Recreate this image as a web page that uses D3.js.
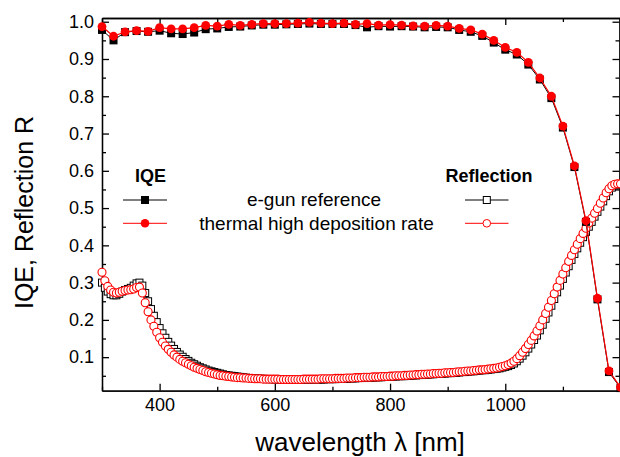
<!DOCTYPE html>
<html>
<head>
<meta charset="utf-8">
<script src="https://cdn.jsdelivr.net/npm/d3@7"></script>
<style>
  body { margin: 0; background: #fff; }
  svg { display: block; font-family: "Liberation Sans", Arial, sans-serif; }
  .axis path, .axis line { stroke: #000; stroke-width: 1.3; }
  .axis text { font-size: 18px; fill: #000; }
</style>
</head>
<body>
<script>
// IQE, sampled every 20 nm
const iqeWl = [300, 320, 340, 360, 380, 400, 420, 440, 460, 480, 500, 520, 540, 560, 580, 600,
  620, 640, 660, 680, 700, 720, 740, 760, 780, 800, 820, 840, 860, 880, 900, 920, 940, 960, 980,
  1000, 1020, 1040, 1060, 1080, 1100, 1120, 1140, 1160, 1180, 1200];
const iqeEgun = [0.978, 0.950, 0.972, 0.975, 0.973, 0.976, 0.969, 0.967, 0.971, 0.980, 0.982, 0.986,
  0.987, 0.990, 0.992, 0.992, 0.993, 0.994, 0.995, 0.994, 0.994, 0.994, 0.991, 0.985, 0.988, 0.987,
  0.988, 0.987, 0.985, 0.986, 0.985, 0.978, 0.973, 0.962, 0.944, 0.925, 0.912, 0.885, 0.845, 0.795,
  0.716, 0.610, 0.463, 0.255, 0.060, 0.017];
const iqeThermal = [0.987, 0.961, 0.973, 0.976, 0.974, 0.984, 0.981, 0.981, 0.984, 0.990, 0.988, 0.993,
  0.990, 0.993, 0.995, 0.995, 0.995, 0.996, 0.998, 0.996, 0.995, 0.996, 0.993, 0.995, 0.991, 0.992,
  0.991, 0.989, 0.988, 0.990, 0.988, 0.982, 0.978, 0.967, 0.950, 0.931, 0.918, 0.891, 0.849, 0.800,
  0.720, 0.613, 0.466, 0.258, 0.063, 0.019];

// reflection, sampled every 5 nm from 300 to 1200
const reflWl = d3.range(300, 1201, 5);
const reflEgun = [
  .300, .286, .276, .269, .266, .266, .270, .276, .280, .283,
  .286, .292, .298, .300, .292, .272, .250, .229, .211, .194,
  .178, .164, .152, .141, .131, .122, .114, .107, .101, .095,
  .090, .085, .081, .077, .073, .070, .067, .064, .062, .060,
  .058, .056, .054, .052, .051, .050, .049, .048, .047, .046,
  .045, .044, .044, .043, .043, .042, .042, .041, .041, .041,
  .040, .040, .040, .039, .039, .039, .039, .039, .039, .039,
  .039, .039, .039, .040, .040, .040, .040, .040, .041, .041,
  .041, .041, .042, .042, .042, .042, .043, .043, .043, .044,
  .044, .044, .045, .045, .045, .046, .046, .046, .047, .047,
  .047, .048, .048, .049, .049, .049, .050, .050, .051, .051,
  .052, .052, .053, .053, .054, .054, .055, .055, .056, .056,
  .057, .057, .058, .058, .059, .060, .060, .061, .062, .062,
  .063, .064, .065, .065, .066, .067, .068, .069, .070, .072,
  .074, .076, .079, .083, .089, .096, .104, .113, .123, .134,
  .146, .158, .172, .187, .203, .220, .238, .256, .274, .292,
  .310, .327, .344, .361, .377, .392, .407, .422, .436, .450,
  .463, .477, .490, .504, .518, .532, .545, .555, .561, .564,
  .565];
const reflThermal = [
  .328, .305, .290, .280, .274, .272, .274, .277, .279, .280,
  .281, .283, .287, .288, .272, .246, .222, .200, .183, .167,
  .152, .140, .130, .121, .113, .106, .100, .094, .089, .085,
  .081, .077, .073, .070, .067, .064, .061, .059, .057, .055,
  .053, .051, .050, .049, .048, .047, .046, .045, .045, .044,
  .044, .043, .043, .042, .042, .042, .041, .041, .041, .041,
  .041, .041, .040, .040, .040, .040, .040, .040, .040, .040,
  .041, .041, .041, .041, .041, .041, .042, .042, .042, .042,
  .042, .043, .043, .043, .043, .044, .044, .044, .045, .045,
  .045, .046, .046, .046, .047, .047, .047, .048, .048, .048,
  .049, .049, .050, .050, .050, .051, .051, .052, .052, .053,
  .053, .054, .054, .055, .055, .056, .056, .057, .057, .058,
  .058, .059, .059, .060, .061, .061, .062, .063, .063, .064,
  .065, .066, .066, .067, .068, .069, .070, .071, .073, .075,
  .077, .080, .084, .089, .096, .104, .113, .123, .134, .145,
  .157, .170, .184, .200, .217, .234, .252, .270, .288, .306,
  .323, .340, .357, .373, .388, .403, .418, .432, .446, .460,
  .473, .486, .499, .513, .527, .541, .552, .560, .564, .565,
  .565];

const xMajor = [400, 600, 800, 1000];
const xMinor = [300, 500, 700, 900, 1100];
const yMajor = [0.1, 0.2, 0.3, 0.4, 0.5, 0.6, 0.7, 0.8, 0.9, 1.0];
const yMinor = [0.05, 0.15, 0.25, 0.35, 0.45, 0.55, 0.65, 0.75, 0.85, 0.95];

const W = 620, H = 457;
const mLeft = 102, mRight = 619.5, mTop = 18, mBottom = 390.7;

const x = d3.scaleLinear().domain([300, 1200]).range([mLeft, 620.5]);
const y = d3.scaleLinear().domain([0.01, 1.01]).range([mBottom, mTop]);

const svg = d3.select('body').append('svg')
  .attr('width', W)
  .attr('height', H);

function addAxis(axis, tx, ty, ticks, size, fmt) {
  return svg.append('g')
    .attr('class', 'axis')
    .attr('transform', `translate(${tx},${ty})`)
    .call(axis.tickValues(ticks).tickSizeInner(-size).tickSizeOuter(0).tickPadding(8)
      .tickFormat(fmt || (() => '')));
}

// bottom
addAxis(d3.axisBottom(x), 0, mBottom, xMinor, 4);
addAxis(d3.axisBottom(x), 0, mBottom, xMajor, 7, d3.format('d'));
// top
addAxis(d3.axisTop(x), 0, mTop, xMinor, 4);
addAxis(d3.axisTop(x), 0, mTop, xMajor, 7);
// left
addAxis(d3.axisLeft(y), mLeft, 0, yMinor, 4);
addAxis(d3.axisLeft(y), mLeft, 0, yMajor, 7, d3.format('.1f'));
// right
addAxis(d3.axisRight(y), mRight, 0, yMinor, 4);
addAxis(d3.axisRight(y), mRight, 0, yMajor, 7);

const line = d3.line().x(d => x(d[0])).y(d => y(d[1]));

// reflection: e-gun (open squares), thermal (open circles)
const rEgun = reflWl.map((w, i) => [w, reflEgun[i]]);
const rTherm = reflWl.map((w, i) => [w, reflThermal[i]]);

svg.append('path').attr('d', line(rEgun)).attr('fill', 'none').attr('stroke', '#000').attr('stroke-width', 1);
svg.append('g').selectAll('rect').data(rEgun).join('rect')
  .attr('x', d => x(d[0]) - 3.5).attr('y', d => y(d[1]) - 3.5)
  .attr('width', 7).attr('height', 7)
  .attr('fill', '#fff').attr('stroke', '#000').attr('stroke-width', 1);

svg.append('path').attr('d', line(rTherm)).attr('fill', 'none').attr('stroke', '#f00').attr('stroke-width', 1);
svg.append('g').selectAll('circle').data(rTherm).join('circle')
  .attr('cx', d => x(d[0])).attr('cy', d => y(d[1])).attr('r', 4)
  .attr('fill', '#fff').attr('stroke', '#f00').attr('stroke-width', 1.1);

// IQE
const qEgun = iqeWl.map((w, i) => [w, iqeEgun[i]]);
const qTherm = iqeWl.map((w, i) => [w, iqeThermal[i]]);

svg.append('path').attr('d', line(qEgun)).attr('fill', 'none').attr('stroke', '#000').attr('stroke-width', 1);
svg.append('g').selectAll('rect').data(qEgun).join('rect')
  .attr('x', d => x(d[0]) - 4).attr('y', d => y(d[1]) - 4)
  .attr('width', 8).attr('height', 8).attr('fill', '#000');

svg.append('path').attr('d', line(qTherm)).attr('fill', 'none').attr('stroke', '#f00').attr('stroke-width', 1.2);
svg.append('g').selectAll('circle').data(qTherm).join('circle')
  .attr('cx', d => x(d[0])).attr('cy', d => y(d[1])).attr('r', 4.4)
  .attr('fill', '#f00');

// legend
const leg = svg.append('g');
leg.append('text').attr('x', 150.5).attr('y', 181.5).attr('text-anchor', 'middle')
  .style('font-size', '18px').style('font-weight', 'bold').text('IQE');
leg.append('text').attr('x', 489).attr('y', 181.5).attr('text-anchor', 'middle')
  .style('font-size', '18px').style('font-weight', 'bold').text('Reflection');
leg.append('text').attr('x', 314).attr('y', 206).attr('text-anchor', 'middle')
  .style('font-size', '19px').text('e-gun reference');
leg.append('text').attr('x', 316.5).attr('y', 229.5).attr('text-anchor', 'middle')
  .style('font-size', '19px').text('thermal high deposition rate');

const ly1 = 200, ly2 = 223.3;
[[ly1, '#000'], [ly2, '#f00']].forEach(([ly, c]) => {
  leg.append('line').attr('x1', 123).attr('x2', 167).attr('y1', ly).attr('y2', ly).attr('stroke', c);
  leg.append('line').attr('x1', 465).attr('x2', 508.5).attr('y1', ly).attr('y2', ly).attr('stroke', c);
});
leg.append('rect').attr('x', 141).attr('y', ly1 - 4).attr('width', 8).attr('height', 8).attr('fill', '#000');
leg.append('circle').attr('cx', 145).attr('cy', ly2).attr('r', 4.3).attr('fill', '#f00');
leg.append('rect').attr('x', 483.3).attr('y', ly1 - 3.5).attr('width', 7).attr('height', 7)
  .attr('fill', '#fff').attr('stroke', '#000');
leg.append('circle').attr('cx', 486.8).attr('cy', ly2).attr('r', 3.8)
  .attr('fill', '#fff').attr('stroke', '#f00');

// axis titles
svg.append('text')
  .attr('transform', `translate(33,212.5) rotate(-90)`)
  .attr('text-anchor', 'middle')
  .style('font-size', '25px')
  .text('IQE, Reflection R');
svg.append('text')
  .attr('x', 360).attr('y', 451)
  .attr('text-anchor', 'middle')
  .style('font-size', '26px')
  .text('wavelength λ [nm]');
</script>
</body>
</html>
